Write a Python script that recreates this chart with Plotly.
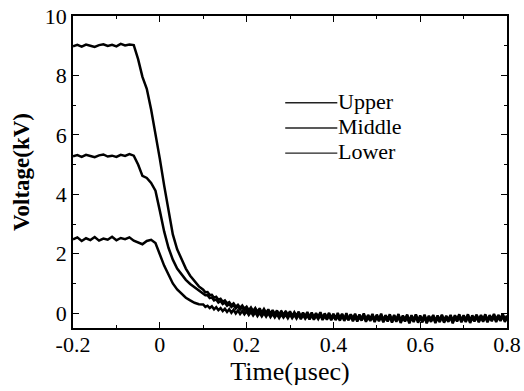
import plotly.graph_objects as go

time_us = [-0.20, -0.19, -0.18, -0.17, -0.16, -0.15, -0.14, -0.13, -0.12, -0.11,
           -0.10, -0.09, -0.08, -0.07, -0.06, -0.05, -0.04, -0.03, -0.02, -0.01,
           0.00, 0.01, 0.02, 0.03, 0.04, 0.05, 0.06, 0.07, 0.08, 0.09,
           0.100, 0.105, 0.110, 0.115, 0.120, 0.125, 0.130, 0.135, 0.140, 0.145,
           0.150, 0.155, 0.160, 0.165, 0.170, 0.175, 0.180, 0.185, 0.190, 0.195,
           0.200, 0.205, 0.210, 0.215, 0.220, 0.225, 0.230, 0.235, 0.240, 0.245,
           0.250, 0.255, 0.260, 0.265, 0.270, 0.275, 0.280, 0.285, 0.290, 0.295,
           0.300, 0.305, 0.310, 0.315, 0.320, 0.325, 0.330, 0.335, 0.340, 0.345,
           0.350, 0.355, 0.360, 0.365, 0.370, 0.375, 0.380, 0.385, 0.390, 0.395,
           0.400, 0.405, 0.410, 0.415, 0.420, 0.425, 0.430, 0.435, 0.440, 0.445,
           0.450, 0.455, 0.460, 0.465, 0.470, 0.475, 0.480, 0.485, 0.490, 0.495,
           0.500, 0.505, 0.510, 0.515, 0.520, 0.525, 0.530, 0.535, 0.540, 0.545,
           0.550, 0.555, 0.560, 0.565, 0.570, 0.575, 0.580, 0.585, 0.590, 0.595,
           0.600, 0.605, 0.610, 0.615, 0.620, 0.625, 0.630, 0.635, 0.640, 0.645,
           0.650, 0.655, 0.660, 0.665, 0.670, 0.675, 0.680, 0.685, 0.690, 0.695,
           0.700, 0.705, 0.710, 0.715, 0.720, 0.725, 0.730, 0.735, 0.740, 0.745,
           0.750, 0.755, 0.760, 0.765, 0.770, 0.775, 0.780, 0.785, 0.790, 0.795,
           0.800]

upper_kv = [8.98, 9.03, 8.97, 9.04, 9.00, 8.96, 9.02, 9.05, 8.99, 9.03,
            8.98, 9.06, 9.01, 9.04, 9.02, 8.55, 7.95, 7.55, 6.85, 6.05,
            5.20, 4.30, 3.40, 2.65, 2.15, 1.80, 1.50, 1.26, 1.06, 0.90,
            0.79, 0.70, 0.71, 0.61, 0.62, 0.52, 0.55, 0.45, 0.48, 0.38,
            0.43, 0.33, 0.37, 0.27, 0.33, 0.22, 0.28, 0.18, 0.26, 0.15,
            0.22, 0.10, 0.19, 0.07, 0.17, 0.04, 0.16, 0.02, 0.14, 0.01,
            0.13, -0.02, 0.10, -0.04, 0.09, -0.05, 0.08, -0.07, 0.07, -0.06,
            0.06, -0.10, 0.03, -0.09, 0.05, -0.12, 0.02, -0.11, 0.04, -0.13,
            0.02, -0.14, 0.00, -0.13, 0.03, -0.16, -0.01, -0.15, 0.01, -0.17,
            -0.02, -0.18, 0.01, -0.17, -0.03, -0.19, 0.00, -0.20, -0.04, -0.18,
            -0.02, -0.21, -0.05, -0.19, -0.01, -0.22, -0.06, -0.20, -0.03, -0.23,
            -0.05, -0.21, -0.02, -0.24, -0.07, -0.20, -0.04, -0.25, -0.06, -0.22,
            -0.03, -0.26, -0.08, -0.21, -0.05, -0.27, -0.07, -0.23, -0.04, -0.25,
            -0.08, -0.24, -0.05, -0.27, -0.09, -0.22, -0.06, -0.26, -0.08, -0.23,
            -0.05, -0.25, -0.09, -0.22, -0.06, -0.26, -0.07, -0.21, -0.04, -0.24,
            -0.07, -0.22, -0.04, -0.25, -0.08, -0.20, -0.05, -0.23, -0.06, -0.21,
            -0.04, -0.24, -0.07, -0.20, -0.03, -0.22, -0.06, -0.19, -0.02, -0.21,
            -0.08]

middle_kv = [5.28, 5.32, 5.26, 5.33, 5.29, 5.25, 5.31, 5.34, 5.27, 5.30,
             5.26, 5.33, 5.29, 5.35, 5.30, 5.00, 4.62, 4.55, 4.38, 4.12,
             3.45, 2.75, 2.20, 1.80, 1.50, 1.30, 1.12, 0.98, 0.87, 0.76,
             0.68, 0.60, 0.60, 0.51, 0.53, 0.43, 0.46, 0.36, 0.41, 0.31,
             0.36, 0.25, 0.31, 0.21, 0.27, 0.16, 0.24, 0.12, 0.21, 0.09,
             0.17, 0.05, 0.15, 0.02, 0.13, 0.00, 0.11, -0.02, 0.10, -0.04,
             0.09, -0.05, 0.07, -0.07, 0.05, -0.09, 0.04, -0.08, 0.03, -0.11,
             0.02, -0.12, 0.00, -0.13, 0.01, -0.15, -0.01, -0.14, -0.02, -0.16,
             -0.01, -0.17, -0.03, -0.16, 0.00, -0.19, -0.04, -0.18, -0.02, -0.20,
             -0.04, -0.19, -0.06, -0.21, -0.03, -0.22, -0.07, -0.20, -0.05, -0.23,
             -0.06, -0.24, -0.08, -0.21, -0.05, -0.25, -0.09, -0.22, -0.07, -0.26,
             -0.08, -0.23, -0.06, -0.27, -0.10, -0.24, -0.07, -0.28, -0.09, -0.25,
             -0.07, -0.29, -0.11, -0.24, -0.08, -0.30, -0.10, -0.26, -0.06, -0.28,
             -0.11, -0.27, -0.08, -0.30, -0.12, -0.25, -0.09, -0.29, -0.11, -0.26,
             -0.08, -0.28, -0.12, -0.25, -0.09, -0.30, -0.10, -0.24, -0.07, -0.27,
             -0.10, -0.26, -0.07, -0.29, -0.11, -0.24, -0.08, -0.27, -0.10, -0.25,
             -0.07, -0.27, -0.10, -0.23, -0.06, -0.26, -0.09, -0.22, -0.05, -0.25,
             -0.12]

lower_kv = [2.48, 2.55, 2.43, 2.52, 2.46, 2.56, 2.44, 2.51, 2.47, 2.57,
            2.45, 2.53, 2.49, 2.55, 2.44, 2.38, 2.32, 2.43, 2.47, 2.36,
            1.98, 1.60, 1.30, 1.00, 0.80, 0.65, 0.52, 0.43, 0.35, 0.30,
            0.29, 0.21, 0.25, 0.17, 0.23, 0.13, 0.20, 0.10, 0.17, 0.07,
            0.15, 0.04, 0.13, 0.01, 0.11, -0.01, 0.09, -0.03, 0.07, -0.04,
            0.06, -0.06, 0.04, -0.08, 0.03, -0.10, 0.01, -0.11, 0.00, -0.12,
            0.00, -0.13, -0.02, -0.14, -0.03, -0.16, -0.04, -0.15, -0.05, -0.17,
            -0.04, -0.17, -0.06, -0.18, -0.05, -0.20, -0.07, -0.19, -0.08, -0.21,
            -0.07, -0.22, -0.09, -0.20, -0.06, -0.23, -0.10, -0.22, -0.08, -0.24,
            -0.09, -0.23, -0.11, -0.25, -0.08, -0.26, -0.12, -0.24, -0.10, -0.27,
            -0.11, -0.28, -0.13, -0.25, -0.10, -0.29, -0.14, -0.26, -0.12, -0.30,
            -0.13, -0.27, -0.11, -0.31, -0.15, -0.28, -0.12, -0.32, -0.14, -0.29,
            -0.12, -0.33, -0.16, -0.28, -0.13, -0.34, -0.15, -0.30, -0.11, -0.32,
            -0.16, -0.31, -0.13, -0.34, -0.17, -0.29, -0.14, -0.33, -0.16, -0.30,
            -0.13, -0.32, -0.17, -0.29, -0.14, -0.34, -0.15, -0.28, -0.12, -0.31,
            -0.15, -0.30, -0.12, -0.33, -0.16, -0.28, -0.13, -0.31, -0.15, -0.29,
            -0.12, -0.31, -0.15, -0.27, -0.11, -0.30, -0.14, -0.26, -0.10, -0.29,
            -0.17]

series_names = ["Upper", "Middle", "Lower"]
x_tick_vals = [-0.2, 0, 0.2, 0.4, 0.6, 0.8]
x_tick_text = ["-0.2", "0", "0.2", "0.4", "0.6", "0.8"]
y_tick_vals = [0, 2, 4, 6, 8, 10]

FONT = "Liberation Serif"

fig = go.Figure()
for name, vals in zip(series_names, [upper_kv, middle_kv, lower_kv]):
    fig.add_trace(go.Scatter(x=time_us, y=vals, mode="lines", name=name,
                             line=dict(color="black", width=2.5), showlegend=False))

axis_common = dict(
    showline=True, linecolor="black", linewidth=1.5, mirror="allticks",
    ticks="inside", ticklen=6, tickwidth=1.2, tickcolor="black",
    showgrid=False, zeroline=False, automargin=False,
    tickfont=dict(family=FONT, size=22, color="black"),
)

fig.update_xaxes(range=[-0.2, 0.8], tickmode="array", tickvals=x_tick_vals, ticktext=x_tick_text,
                 ticklabelstandoff=-4,
                 minor=dict(ticks="inside", ticklen=3.5, tickwidth=1.2, tickcolor="black", dtick=0.1, tick0=-0.2),
                 title=dict(text="Time(µsec)", font=dict(family=FONT, size=26, color="black"), standoff=5),
                 **axis_common)
fig.update_yaxes(range=[-0.5, 10], tickmode="array", tickvals=y_tick_vals,
                 minor=dict(ticks="inside", ticklen=3.5, tickwidth=1.2, tickcolor="black", dtick=1, tick0=0),
                 title=dict(text="<b>Voltage(kV)</b>", font=dict(family=FONT, size=23, color="black"), standoff=9),
                 **axis_common)

# legend drawn as sample lines with labels (positions in paper coordinates)
legend_y = [0.722, 0.641, 0.5605]
for name, ly in zip(series_names, legend_y):
    fig.add_shape(type="line", xref="paper", yref="paper", x0=0.489, x1=0.609, y0=ly, y1=ly,
                  line=dict(color="#222222", width=1.3))
    fig.add_annotation(xref="paper", yref="paper", x=0.607, y=ly + 0.004, text=name, showarrow=False,
                       xanchor="left", yanchor="middle",
                       font=dict(family=FONT, size=22, color="black"))

fig.update_layout(
    width=524, height=391,
    margin=dict(l=73, r=17, t=16, b=63),
    paper_bgcolor="white", plot_bgcolor="white",
    showlegend=False,
)

fig.write_html("out.html", config={"displayModeBar": False},
               post_script="document.body.style.margin='0';document.body.style.overflow='hidden';")
